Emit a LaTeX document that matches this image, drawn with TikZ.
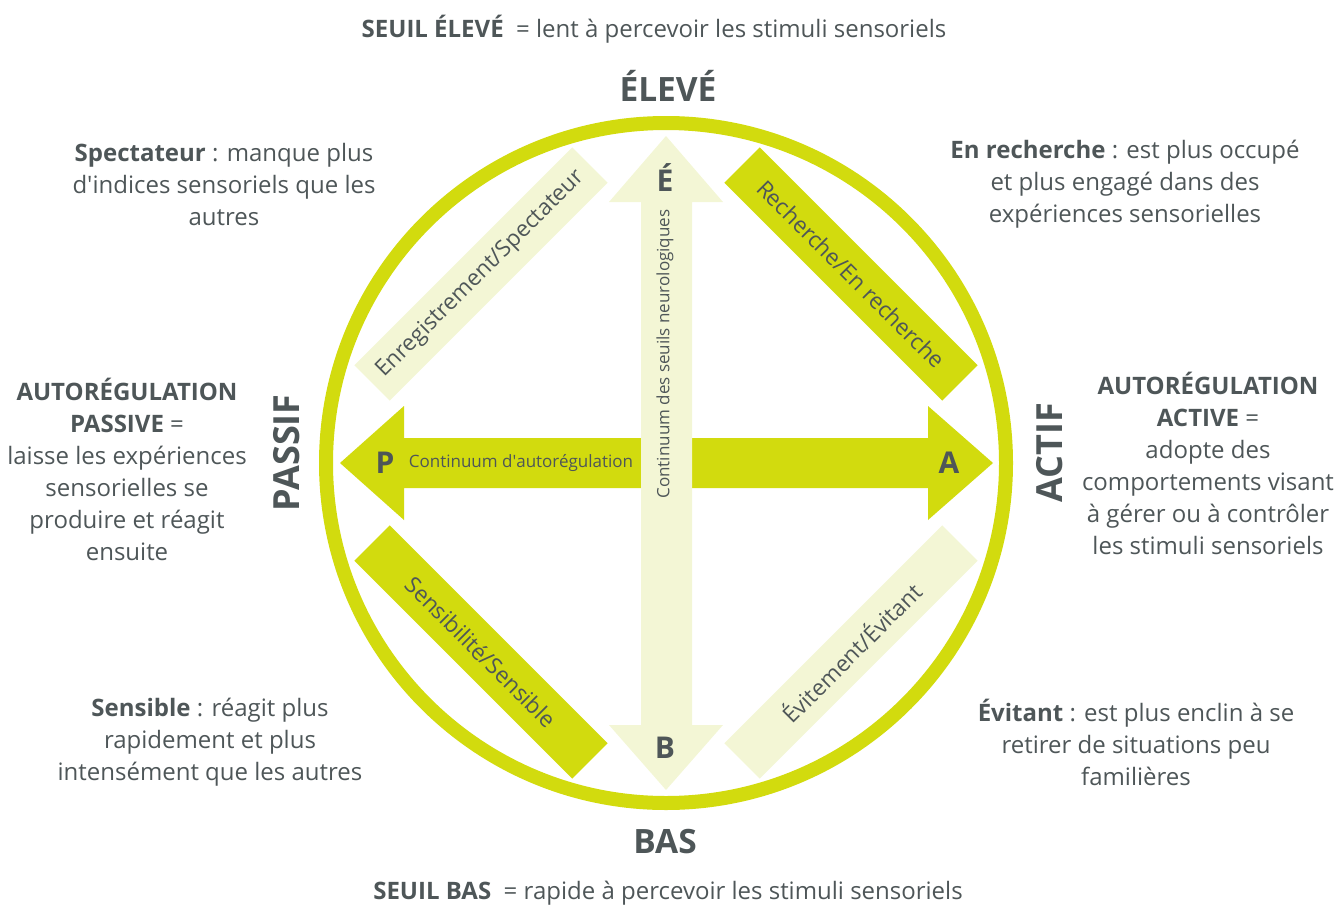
\documentclass[tikz,border=0pt]{standalone}
\usepackage{fontspec}
\setmainfont{Open Sans}
\usetikzlibrary{positioning}
\definecolor{myLime}{RGB}{210,219,14}
\definecolor{myCream}{RGB}{243,246,213}
\definecolor{myGray}{RGB}{78,86,88}
\tikzset{
  band/.style={rectangle, minimum width=308, minimum height=50, inner sep=0pt, text=myGray, font=\fontsize{22.5}{26}\selectfont},
  infoText/.style={align=center, text=myGray, font=\fontsize{24}{32}\selectfont, inner sep=0pt},
  smallText/.style={text=myGray, font=\fontsize{17}{20}\selectfont, inner sep=0pt},
  poleLetter/.style={text=myGray, font=\fontsize{30}{34}\selectfont\bfseries, inner sep=0pt},
  axisTitle/.style={text=myGray, font=\fontsize{33.5}{38}\selectfont\bfseries, inner sep=0pt},
  sideTitle/.style={text=myGray, font=\fontsize{36}{40}\selectfont\bfseries, inner sep=0pt, rotate=90},
}

\begin{document}
\begin{tikzpicture}[x=1pt,y=-1pt]
	\useasboundingbox (0,0) rectangle (1338,907);
	% Ring
	\coordinate (ctr) at (666,463);
	\draw[myLime, line width=14pt] (ctr) circle (340);
	% Self-regulation arrow
	\fill[myLime] (340,463) -- (404,406) -- (404,438) -- (928,438) -- (928,406) -- (993,463)
		-- (928,520) -- (928,488) -- (404,488) -- (404,520) -- cycle;
	% Threshold arrow
	\fill[myCream] (666,136) -- (723,202) -- (692,202) -- (692,725) -- (723,725) -- (666,790)
		-- (609,725) -- (641,725) -- (641,202) -- (609,202) -- cycle;
	% Quadrant bands
	\node[band, fill=myCream, rotate=45] (enreg) at (481,274) {Enregistrement/Spectateur};
	\node[band, fill=myLime, rotate=-45] (recherche) at (851,274) {Recherche/En recherche};
	\node[band, fill=myLime, rotate=-45] (sensib) at (481,652) {Sensibilité/Sensible};
	\node[band, fill=myCream, rotate=45] (evit) at (851,652) {Évitement/Évitant};
	% Arrow labels
	\node[smallText, rotate=90] (seuilsLbl) at (665,354) {Continuum des seuils neurologiques};
	\node[smallText] (autoLbl) at (521,463) {Continuum d\textquotesingle autorégulation};
	\node[poleLetter] (lettreE) at (665,178) {É};
	\node[poleLetter] (lettreB) at (665,748) {B};
	\node[poleLetter] (lettreP) at (385,463) {P};
	\node[poleLetter] (lettreA) at (949,463) {A};
	% Pole titles
	\node[axisTitle] (eleve) at (668,86) {ÉLEVÉ};
	\node[axisTitle] (bas) at (665,842) {BAS};
	\node[sideTitle] (passif) at (287,453) {PASSIF};
	\node[sideTitle] (actif) at (1050,453) {ACTIF};
	% Explanations
	\node[infoText] (seuilHaut) at (654,29) {\textbf{SEUIL ÉLEVÉ}\ \ = lent à percevoir les stimuli sensoriels};
	\node[infoText] (seuilBas) at (668,893) {\textbf{SEUIL BAS}\ \ = rapide à percevoir les stimuli sensoriels};
	\node[infoText] (spect) at (224,184) {\textbf{Spectateur} : manque plus\\d\textquotesingle indices sensoriels que les\\autres};
	\node[infoText] (enRech) at (1125,184) {\textbf{En recherche} : est plus occupé\\et plus engagé dans des\\expériences sensorielles};
	\node[infoText] (sensible) at (210,742) {\textbf{Sensible} : réagit plus\\rapidement et plus\\intensément que les autres};
	\node[infoText] (evitant) at (1136,742) {\textbf{Évitant} : est plus enclin à se\\retirer de situations peu\\familières};
	\node[infoText] (passive) at (127,469) {\textbf{AUTORÉGULATION}\\\textbf{PASSIVE} =\\laisse les expériences\\sensorielles se\\produire et réagit\\ensuite};
	\node[infoText] (active) at (1208,463) {\textbf{AUTORÉGULATION}\\\textbf{ACTIVE} =\\adopte des\\comportements visant\\à gérer ou à contrôler\\les stimuli sensoriels};
\end{tikzpicture}
\end{document}
